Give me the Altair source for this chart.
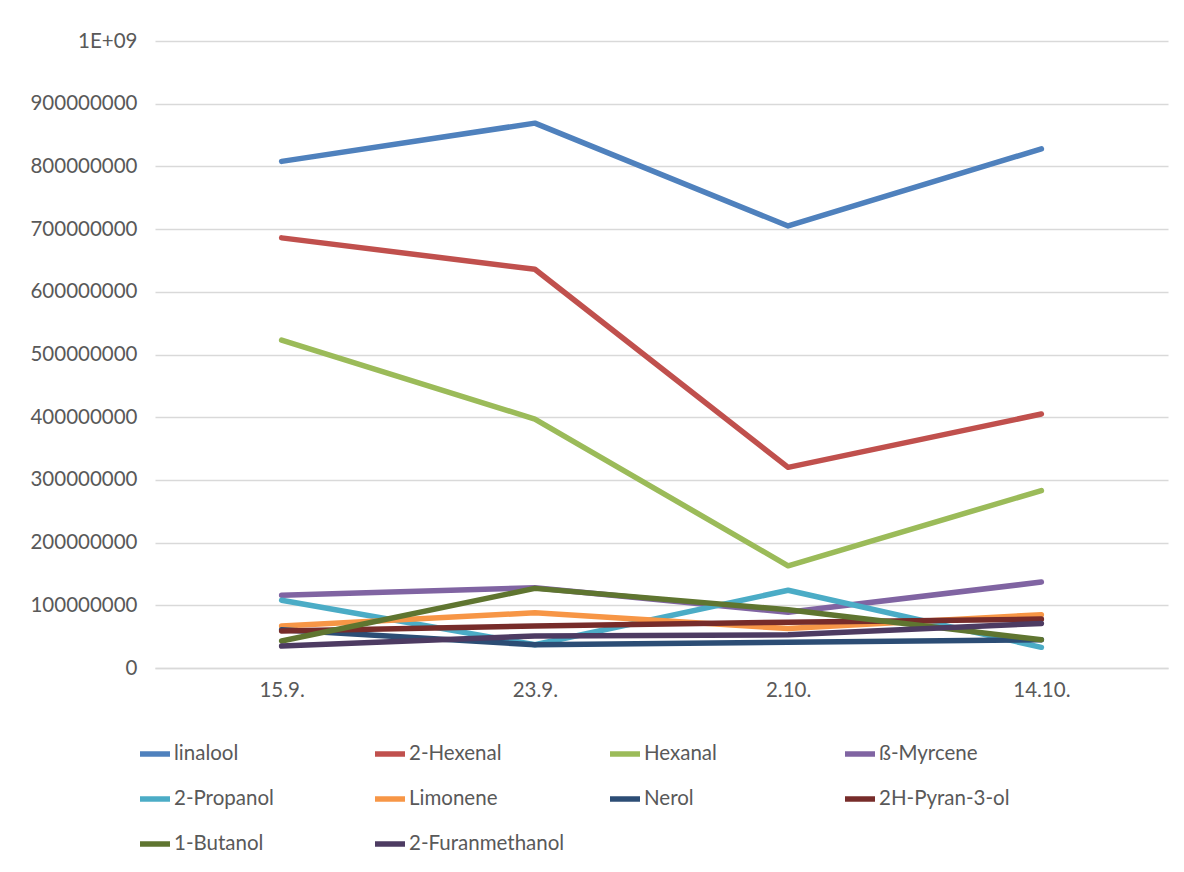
import altair as alt
import pandas as pd

dates = ["15.9.", "23.9.", "2.10.", "14.10."]
series = ["linalool", "2-Hexenal", "Hexanal", "ß-Myrcene", "2-Propanol",
          "Limonene", "Nerol", "2H-Pyran-3-ol", "1-Butanol", "2-Furanmethanol"]
colors = ["#4F81BD", "#C0504D", "#9BBB59", "#8064A2", "#4BACC6",
          "#F79646", "#2C4D75", "#772C2A", "#5F7530", "#4D3B62"]

linalool = [808e6, 869e6, 705e6, 828e6]
hexenal = [686e6, 636e6, 320e6, 405e6]
hexanal = [523e6, 397e6, 163e6, 283e6]
myrcene = [116e6, 128e6, 89e6, 137e6]
propanol = [108e6, 37e6, 124e6, 33e6]
limonene = [67e6, 88e6, 63e6, 85e6]
nerol = [61e6, 37e6, 41e6, 45e6]
pyranol = [59e6, 67e6, 73e6, 78e6]
butanol = [43e6, 127e6, 93e6, 45e6]
furanmethanol = [35e6, 51e6, 53e6, 71e6]

values = [linalool, hexenal, hexanal, myrcene, propanol,
          limonene, nerol, pyranol, butanol, furanmethanol]

rows = []
for s_i, (name, vals) in enumerate(zip(series, values)):
    for d_i, (d, v) in enumerate(zip(dates, vals)):
        rows.append({"series": name, "date": d, "value": v, "order": s_i})
df = pd.DataFrame(rows)

FONT = "Lato"
GRAY = "#595959"
FS = 20.5

chart = alt.Chart(df).mark_line(strokeWidth=5.5, strokeCap="round", strokeJoin="round").encode(
    x=alt.X("date:N", sort=dates, scale=alt.Scale(type="point", padding=0.5),
            axis=alt.Axis(title=None, labelAngle=0, ticks=False, domainColor="#d9d9d9",
                          domainWidth=1.5,
                          labelColor=GRAY, labelFontSize=FS, labelFont=FONT, labelPadding=12,
                          grid=False)),
    y=alt.Y("value:Q", scale=alt.Scale(domain=[0, 1e9], nice=False),
            axis=alt.Axis(title=None, values=[i * 1e8 for i in range(11)],
                          labelExpr="datum.value >= 1e9 ? '1E+09' : format(datum.value, 'd')",
                          ticks=False, domain=False, gridColor="#d9d9d9", gridWidth=1.5,
                          labelColor=GRAY, labelFontSize=FS, labelFont=FONT, labelPadding=18)),
    color=alt.Color("series:N", sort=series,
                    scale=alt.Scale(domain=series, range=colors),
                    legend=alt.Legend(title=None, orient="none", legendX=-18, legendY=695,
                                      columns=4, direction="horizontal", gridAlign="all",
                                      symbolType="stroke", symbolStrokeWidth=5.5, symbolSize=900,
                                      labelFontSize=FS, labelFont=FONT, labelColor=GRAY,
                                      labelOffset=1, columnPadding=34, rowPadding=16)),
    order=alt.Order("order:Q"),
    detail="series:N",
).properties(
    width=1013, height=627,
    padding={"left": 147, "top": 33, "right": 8, "bottom": 196},
    autosize=alt.AutoSizeParams(type="none"),
).configure(background="white", view=alt.ViewConfig(stroke=None))

chart.save("out.html", embed_options={"renderer": "svg", "actions": False})
